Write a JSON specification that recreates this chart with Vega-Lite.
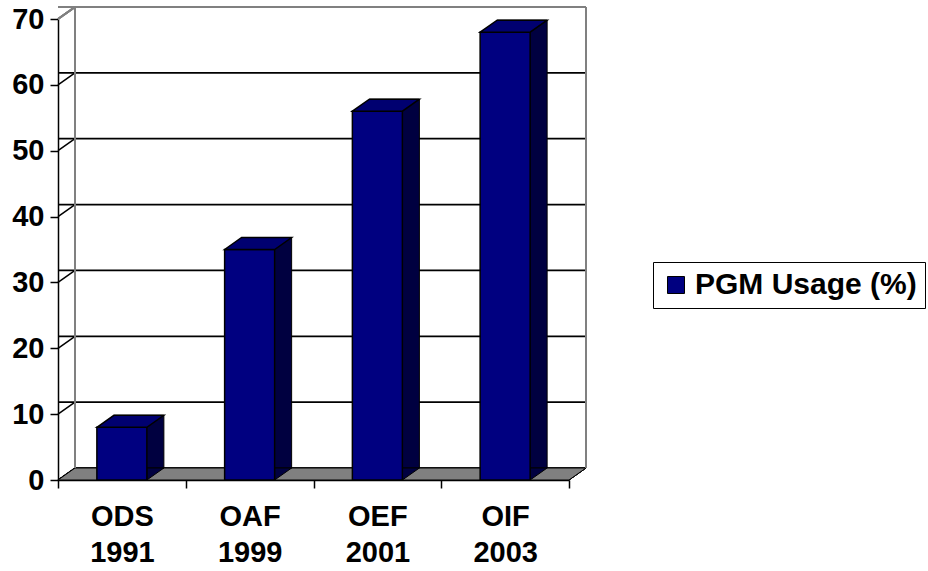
{
  "$schema": "https://vega.github.io/schema/vega-lite/v6.json",
  "width": 511,
  "height": 461,
  "autosize": {"type": "none"},
  "padding": {"left": 58, "top": 19, "right": 359, "bottom": 91},
  "background": "white",
  "config": {
    "view": {"stroke": null},
    "font": "Liberation Sans",
    "axisX": {"title": null, "labelFont": "Liberation Sans", "labelFontSize": 29, "labelFontWeight": "bold", "labelColor": "black", "labelLineHeight": 36, "labelPadding": 14, "labelAngle": 0, "tickBand": "extent", "tickSize": 8, "tickColor": "black", "tickWidth": 1.5, "domainColor": "black", "domainWidth": 1.5, "grid": false},
    "axisY": {"title": null, "labelFont": "Liberation Sans", "labelFontSize": 29, "labelFontWeight": "bold", "labelColor": "black", "labelPadding": 6, "tickSize": 8, "tickColor": "black", "tickWidth": 1.5, "domainColor": "black", "domainWidth": 1.5, "grid": false}
  },
  "data": {"values": [
    {"op": "ODS 1991", "v": 8},
    {"op": "OAF 1999", "v": 35},
    {"op": "OEF 2001", "v": 56},
    {"op": "OIF 2003", "v": 68}
  ]},
  "layer": [
    {
      "data": {"values": [{"g": 10}, {"g": 20}, {"g": 30}, {"g": 40}, {"g": 50}, {"g": 60}]},
      "mark": {"type": "rule", "color": "black", "strokeWidth": 1.8, "xOffset": 17, "x2Offset": 17, "yOffset": -12},
      "encoding": {
        "y": {"field": "g", "type": "quantitative", "scale": {"domain": [0, 70], "nice": false}, "axis": {"title": null, "values": [0, 10, 20, 30, 40, 50, 60, 70]}}
      }
    },
    {
      "data": {"values": [{"g": 0}, {"g": 10}, {"g": 20}, {"g": 30}, {"g": 40}, {"g": 50}, {"g": 60}]},
      "mark": {"type": "point", "shape": "M0,0 L17,-12", "size": 4, "filled": false, "stroke": "black", "strokeWidth": 1.5, "opacity": 1},
      "encoding": {
        "x": {"datum": "ODS 1991", "type": "nominal", "bandPosition": 0, "scale": {"domain": ["ODS 1991", "OAF 1999", "OEF 2001", "OIF 2003"], "paddingInner": 0, "paddingOuter": 0}, "axis": {"title": null, "labelExpr": "split(datum.label, ' ')"}},
        "y": {"field": "g", "type": "quantitative", "scale": {"domain": [0, 70], "nice": false}, "axis": {"title": null, "values": [0, 10, 20, 30, 40, 50, 60, 70]}}
      }
    },
    {
      "mark": {"type": "point", "shape": "M0,0 L17,-12 L528,-12 L511,0 Z", "size": 4, "filled": true, "fill": "#808080", "stroke": "black", "strokeWidth": 1, "opacity": 1},
      "encoding": {
        "x": {"datum": "ODS 1991", "type": "nominal", "bandPosition": 0, "scale": {"domain": ["ODS 1991", "OAF 1999", "OEF 2001", "OIF 2003"], "paddingInner": 0, "paddingOuter": 0}, "axis": {"title": null, "labelExpr": "split(datum.label, ' ')"}},
        "y": {"datum": 0, "type": "quantitative", "scale": {"domain": [0, 70], "nice": false}, "axis": {"title": null, "values": [0, 10, 20, 30, 40, 50, 60, 70]}}
      }
    },
    {
      "mark": {"type": "rule", "color": "#808080", "strokeWidth": 2, "xOffset": 17, "yOffset": -12, "y2Offset": -12},
      "encoding": {
        "x": {"datum": "ODS 1991", "type": "nominal", "bandPosition": 0, "scale": {"domain": ["ODS 1991", "OAF 1999", "OEF 2001", "OIF 2003"], "paddingInner": 0, "paddingOuter": 0}, "axis": {"title": null, "labelExpr": "split(datum.label, ' ')"}},
        "y": {"datum": 0, "type": "quantitative", "scale": {"domain": [0, 70], "nice": false}, "axis": {"title": null, "values": [0, 10, 20, 30, 40, 50, 60, 70]}},
        "y2": {"datum": 70}
      }
    },
    {
      "mark": {"type": "rule", "color": "#808080", "strokeWidth": 2, "xOffset": 17, "yOffset": -12, "y2Offset": -12},
      "encoding": {
        "x": {"datum": "OIF 2003", "type": "nominal", "bandPosition": 1, "scale": {"domain": ["ODS 1991", "OAF 1999", "OEF 2001", "OIF 2003"], "paddingInner": 0, "paddingOuter": 0}, "axis": {"title": null, "labelExpr": "split(datum.label, ' ')"}},
        "y": {"datum": 0, "type": "quantitative", "scale": {"domain": [0, 70], "nice": false}, "axis": {"title": null, "values": [0, 10, 20, 30, 40, 50, 60, 70]}},
        "y2": {"datum": 70}
      }
    },
    {
      "mark": {"type": "rule", "color": "#808080", "strokeWidth": 2, "xOffset": 17, "x2Offset": 17, "yOffset": -12},
      "encoding": {
        "y": {"datum": 70, "type": "quantitative", "scale": {"domain": [0, 70], "nice": false}, "axis": {"title": null, "values": [0, 10, 20, 30, 40, 50, 60, 70]}}
      }
    },
    {
      "mark": {"type": "point", "shape": "M0,0 L17,-12", "size": 4, "filled": false, "stroke": "#808080", "strokeWidth": 2, "opacity": 1},
      "encoding": {
        "x": {"datum": "ODS 1991", "type": "nominal", "bandPosition": 0, "scale": {"domain": ["ODS 1991", "OAF 1999", "OEF 2001", "OIF 2003"], "paddingInner": 0, "paddingOuter": 0}, "axis": {"title": null, "labelExpr": "split(datum.label, ' ')"}},
        "y": {"datum": 70, "type": "quantitative", "scale": {"domain": [0, 70], "nice": false}, "axis": {"title": null, "values": [0, 10, 20, 30, 40, 50, 60, 70]}}
      }
    },
    {
      "mark": {"type": "bar", "width": 50, "fill": "#000040", "stroke": "black", "strokeWidth": 1, "xOffset": 17, "yOffset": -12, "y2Offset": -12},
      "encoding": {
        "x": {"field": "op", "type": "nominal", "scale": {"domain": ["ODS 1991", "OAF 1999", "OEF 2001", "OIF 2003"], "paddingInner": 0, "paddingOuter": 0}, "axis": {"title": null, "labelExpr": "split(datum.label, ' ')"}},
        "y": {"field": "v", "type": "quantitative", "scale": {"domain": [0, 70], "nice": false}, "axis": {"title": null, "values": [0, 10, 20, 30, 40, 50, 60, 70]}}
      }
    },
    {
      "mark": {"type": "point", "shape": "M25,-12 L25,0 L42,-12 Z", "size": 4, "filled": true, "fill": "#000040", "stroke": "black", "strokeWidth": 1, "opacity": 1},
      "encoding": {
        "x": {"field": "op", "type": "nominal", "scale": {"domain": ["ODS 1991", "OAF 1999", "OEF 2001", "OIF 2003"], "paddingInner": 0, "paddingOuter": 0}, "axis": {"title": null, "labelExpr": "split(datum.label, ' ')"}},
        "y": {"datum": 0, "type": "quantitative", "scale": {"domain": [0, 70], "nice": false}, "axis": {"title": null, "values": [0, 10, 20, 30, 40, 50, 60, 70]}}
      }
    },
    {
      "mark": {"type": "bar", "width": 50, "stroke": "black", "strokeWidth": 1.5},
      "encoding": {
        "x": {"field": "op", "type": "nominal", "scale": {"domain": ["ODS 1991", "OAF 1999", "OEF 2001", "OIF 2003"], "paddingInner": 0, "paddingOuter": 0}, "axis": {"title": null, "labelExpr": "split(datum.label, ' ')"}},
        "y": {"field": "v", "type": "quantitative", "scale": {"domain": [0, 70], "nice": false}, "axis": {"title": null, "values": [0, 10, 20, 30, 40, 50, 60, 70]}},
        "color": {"datum": "PGM Usage (%)", "type": "nominal", "scale": {"range": ["#000080"]},
          "legend": {"title": null, "orient": "none", "legendX": 595, "legendY": 243, "symbolType": "square", "symbolSize": 289, "symbolStrokeColor": "black", "symbolStrokeWidth": 1, "symbolOpacity": 1, "labelFont": "Liberation Sans", "labelFontSize": 30, "labelFontWeight": "bold", "labelColor": "black", "labelLimit": 0, "labelOffset": 4, "strokeColor": "black", "fillColor": "white", "padding": 8}}
      }
    },
    {
      "mark": {"type": "point", "shape": "M-25,0 L-8,-12 L42,-12 L25,0 Z", "size": 4, "filled": true, "fill": "#000070", "stroke": "black", "strokeWidth": 1.5, "opacity": 1},
      "encoding": {
        "x": {"field": "op", "type": "nominal", "scale": {"domain": ["ODS 1991", "OAF 1999", "OEF 2001", "OIF 2003"], "paddingInner": 0, "paddingOuter": 0}, "axis": {"title": null, "labelExpr": "split(datum.label, ' ')"}},
        "y": {"field": "v", "type": "quantitative", "scale": {"domain": [0, 70], "nice": false}, "axis": {"title": null, "values": [0, 10, 20, 30, 40, 50, 60, 70]}}
      }
    }
  ]
}
